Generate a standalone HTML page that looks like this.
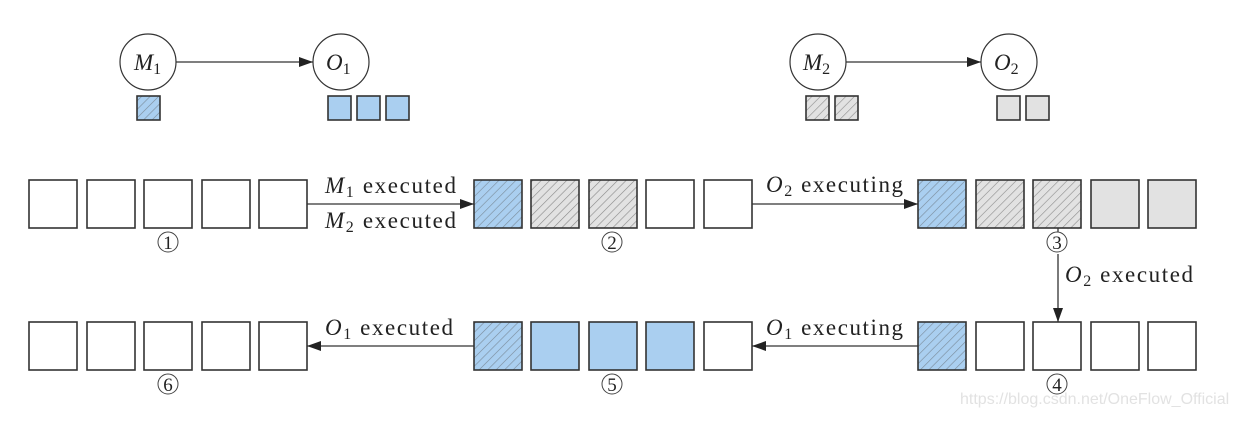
<!DOCTYPE html>
<html><head><meta charset="utf-8"><style>
html,body{margin:0;padding:0;background:#fff;}
text{font-family:"Liberation Serif",serif;fill:#222;}
</style></head><body>
<svg width="1246" height="416" viewBox="0 0 1246 416" xmlns="http://www.w3.org/2000/svg">
<defs>
<pattern id="hb" patternUnits="userSpaceOnUse" width="6" height="6" patternTransform="rotate(45)">
<rect width="6" height="6" fill="#aacff0"/><line x1="0" y1="0" x2="0" y2="6" stroke="#7a8a99" stroke-width="1.2"/></pattern>
<pattern id="hg" patternUnits="userSpaceOnUse" width="6" height="6" patternTransform="rotate(45)">
<rect width="6" height="6" fill="#e2e2e2"/><line x1="0" y1="0" x2="0" y2="6" stroke="#8a8a8a" stroke-width="1.2"/></pattern>
<marker id="ar" markerWidth="14" markerHeight="10" refX="14" refY="5" orient="auto" markerUnits="userSpaceOnUse">
<path d="M0,0 L14,5 L0,10 Z" fill="#222"/></marker>
</defs>
<g stroke="#333" stroke-width="1.6">
<circle cx="148" cy="62" r="28" fill="#fff" stroke-width="1.2"/>
<circle cx="341" cy="62" r="28" fill="#fff" stroke-width="1.2"/>
<line x1="176" y1="62" x2="313" y2="62" marker-end="url(#ar)" stroke-width="1.3"/>
<circle cx="818" cy="62" r="28" fill="#fff" stroke-width="1.2"/>
<circle cx="1009" cy="62" r="28" fill="#fff" stroke-width="1.2"/>
<line x1="846" y1="62" x2="981" y2="62" marker-end="url(#ar)" stroke-width="1.3"/>
<rect x="137" y="96" width="23" height="24" fill="url(#hb)"/>
<rect x="328" y="96" width="23" height="24" fill="#aacff0"/>
<rect x="357" y="96" width="23" height="24" fill="#aacff0"/>
<rect x="386" y="96" width="23" height="24" fill="#aacff0"/>
<rect x="806" y="96" width="23" height="24" fill="url(#hg)"/>
<rect x="835" y="96" width="23" height="24" fill="url(#hg)"/>
<rect x="997" y="96" width="23" height="24" fill="#e2e2e2"/>
<rect x="1026" y="96" width="23" height="24" fill="#e2e2e2"/>
<rect x="29" y="180" width="48" height="48" fill="#fff"/>
<rect x="87" y="180" width="48" height="48" fill="#fff"/>
<rect x="144" y="180" width="48" height="48" fill="#fff"/>
<rect x="202" y="180" width="48" height="48" fill="#fff"/>
<rect x="259" y="180" width="48" height="48" fill="#fff"/>
<rect x="474" y="180" width="48" height="48" fill="url(#hb)"/>
<rect x="531" y="180" width="48" height="48" fill="url(#hg)"/>
<rect x="589" y="180" width="48" height="48" fill="url(#hg)"/>
<rect x="646" y="180" width="48" height="48" fill="#fff"/>
<rect x="704" y="180" width="48" height="48" fill="#fff"/>
<rect x="918" y="180" width="48" height="48" fill="url(#hb)"/>
<rect x="976" y="180" width="48" height="48" fill="url(#hg)"/>
<rect x="1033" y="180" width="48" height="48" fill="url(#hg)"/>
<rect x="1091" y="180" width="48" height="48" fill="#e2e2e2"/>
<rect x="1148" y="180" width="48" height="48" fill="#e2e2e2"/>
<line x1="307" y1="204" x2="474" y2="204" marker-end="url(#ar)" stroke-width="1.3"/>
<line x1="752" y1="204" x2="918" y2="204" marker-end="url(#ar)" stroke-width="1.3"/>
<line x1="1058" y1="254" x2="1058" y2="322" marker-end="url(#ar)" stroke-width="1.3"/>
<line x1="1058" y1="228" x2="1058" y2="232" stroke-width="1.3"/>
<rect x="29" y="322" width="48" height="48" fill="#fff"/>
<rect x="87" y="322" width="48" height="48" fill="#fff"/>
<rect x="144" y="322" width="48" height="48" fill="#fff"/>
<rect x="202" y="322" width="48" height="48" fill="#fff"/>
<rect x="259" y="322" width="48" height="48" fill="#fff"/>
<rect x="474" y="322" width="48" height="48" fill="url(#hb)"/>
<rect x="531" y="322" width="48" height="48" fill="#aacff0"/>
<rect x="589" y="322" width="48" height="48" fill="#aacff0"/>
<rect x="646" y="322" width="48" height="48" fill="#aacff0"/>
<rect x="704" y="322" width="48" height="48" fill="#fff"/>
<rect x="918" y="322" width="48" height="48" fill="url(#hb)"/>
<rect x="976" y="322" width="48" height="48" fill="#fff"/>
<rect x="1033" y="322" width="48" height="48" fill="#fff"/>
<rect x="1091" y="322" width="48" height="48" fill="#fff"/>
<rect x="1148" y="322" width="48" height="48" fill="#fff"/>
<line x1="474" y1="346" x2="307" y2="346" marker-end="url(#ar)" stroke-width="1.3"/>
<line x1="918" y1="346" x2="752" y2="346" marker-end="url(#ar)" stroke-width="1.3"/>
</g>
<g font-size="23">
<text x="134" y="70" font-style="italic">M<tspan font-size="16" font-style="normal" dy="4">1</tspan></text>
<text x="326" y="70" font-style="italic">O<tspan font-size="16" font-style="normal" dy="4">1</tspan></text>
<text x="803" y="70" font-style="italic">M<tspan font-size="16" font-style="normal" dy="4">2</tspan></text>
<text x="994" y="70" font-style="italic">O<tspan font-size="16" font-style="normal" dy="4">2</tspan></text>
<text x="325" y="193" textLength="131"><tspan font-style="italic">M</tspan><tspan font-size="16" dy="4">1</tspan><tspan dy="-4"> executed</tspan></text>
<text x="325" y="228" textLength="131"><tspan font-style="italic">M</tspan><tspan font-size="16" dy="4">2</tspan><tspan dy="-4"> executed</tspan></text>
<text x="766" y="192" textLength="137"><tspan font-style="italic">O</tspan><tspan font-size="16" dy="4">2</tspan><tspan dy="-4"> executing</tspan></text>
<text x="1065" y="282" textLength="128"><tspan font-style="italic">O</tspan><tspan font-size="16" dy="4">2</tspan><tspan dy="-4"> executed</tspan></text>
<text x="766" y="335" textLength="137"><tspan font-style="italic">O</tspan><tspan font-size="16" dy="4">1</tspan><tspan dy="-4"> executing</tspan></text>
<text x="325" y="335" textLength="128"><tspan font-style="italic">O</tspan><tspan font-size="16" dy="4">1</tspan><tspan dy="-4"> executed</tspan></text>
</g>
<g fill="#fff" stroke="#444" stroke-width="1">
<circle cx="168" cy="242" r="10"/><circle cx="612" cy="242" r="10"/><circle cx="1057" cy="242" r="10"/>
<circle cx="1057" cy="384" r="10"/><circle cx="612" cy="384" r="10"/><circle cx="168" cy="384" r="10"/>
</g>
<g font-size="19" text-anchor="middle">
<text x="168" y="249">1</text>
<text x="612" y="249">2</text>
<text x="1057" y="249">3</text>
<text x="1057" y="391">4</text>
<text x="612" y="391">5</text>
<text x="168" y="391">6</text>
</g>
<text x="960" y="404" font-size="16" style="font-family:'Liberation Sans',sans-serif;fill:#e2e2e2">https://blog.csdn.net/OneFlow_Official</text>
</svg>
</body></html>
